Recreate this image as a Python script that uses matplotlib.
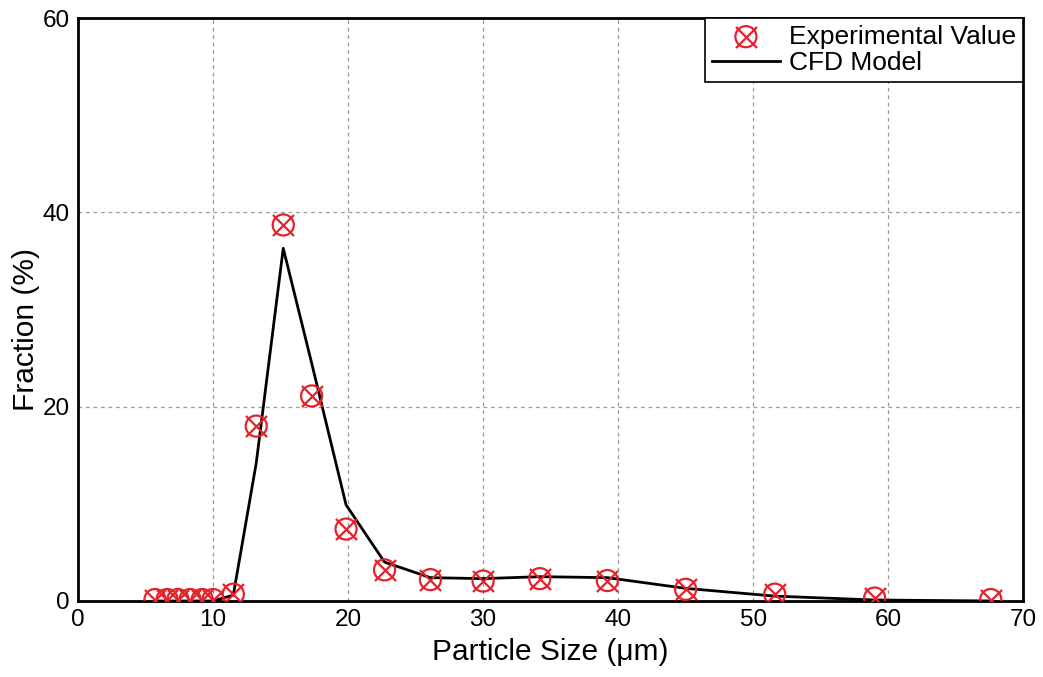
import matplotlib
matplotlib.use('Agg')
import matplotlib.pyplot as plt
from matplotlib.legend_handler import HandlerTuple

plt.rcParams['font.family'] = ['Liberation Sans', 'DejaVu Sans']

# Experimental values (particle size in um, fraction in %)
exp_size = [5.7, 6.6, 7.4, 8.3, 9.2, 10.0, 11.5, 13.2, 15.2, 17.3, 19.85, 22.7,
            26.1, 30.0, 34.2, 39.2, 45.0, 51.6, 59.0, 67.6]
exp_frac = [0.15, 0.15, 0.15, 0.15, 0.15, 0.15, 0.7, 18.0, 38.7, 21.1, 7.4, 3.2,
            2.2, 2.05, 2.3, 2.1, 1.2, 0.7, 0.3, 0.15]

# CFD model curve
cfd_size = [5.7, 6.6, 7.4, 8.3, 9.2, 10.0, 11.5, 13.2, 15.2, 17.3, 19.85, 22.7,
            26.1, 30.0, 34.2, 39.2, 45.0, 51.6, 59.0, 67.6]
cfd_frac = [0.0, 0.0, 0.0, 0.0, 0.0, 0.0, 0.6, 14.2, 36.3, 24.5, 9.9, 4.0,
            2.4, 2.3, 2.5, 2.4, 1.3, 0.5, 0.1, 0.0]

fig = plt.figure(figsize=(10.43, 6.77), dpi=100)
ax = fig.add_axes([0.0748, 0.1123, 0.9062, 0.8611])

red = '#e8202a'
line, = ax.plot(cfd_size, cfd_frac, color='black', linewidth=2, zorder=3)
m1 = ax.scatter(exp_size, exp_frac, s=230, facecolors='none', edgecolors=red,
                linewidths=1.6, zorder=4)
m2 = ax.scatter(exp_size, exp_frac, s=230, marker='x', color=red,
                linewidths=1.6, zorder=4)

ax.set_xlim(0, 70)
ax.set_ylim(0, 60)
ax.set_xticks(range(0, 71, 10))
ax.set_yticks([0, 20, 40, 60])
ax.tick_params(length=0, labelsize=17.5, pad=6)
ax.grid(True, linestyle=(0, (3, 3)), color='#999999', linewidth=0.9)
ax.set_axisbelow(True)
for s in ax.spines.values():
    s.set_linewidth(2)

ax.set_xlabel('Particle Size (μm)', fontsize=21.5, labelpad=5)
ax.set_ylabel('Fraction (%)', fontsize=21.5, labelpad=4)
ax.yaxis.set_label_coords(-0.04, 0.465)

leg = ax.legend([(m1, m2), line], ['Experimental Value', 'CFD Model'],
                handler_map={tuple: HandlerTuple(ndivide=1)},
                loc='upper right', fontsize=19, fancybox=False, framealpha=1,
                edgecolor='black', borderaxespad=0, handlelength=2.6,
                labelspacing=0.1, borderpad=0.25, handletextpad=0.35)
leg.get_frame().set_linewidth(1.2)

fig.savefig('out.png', dpi=100)
